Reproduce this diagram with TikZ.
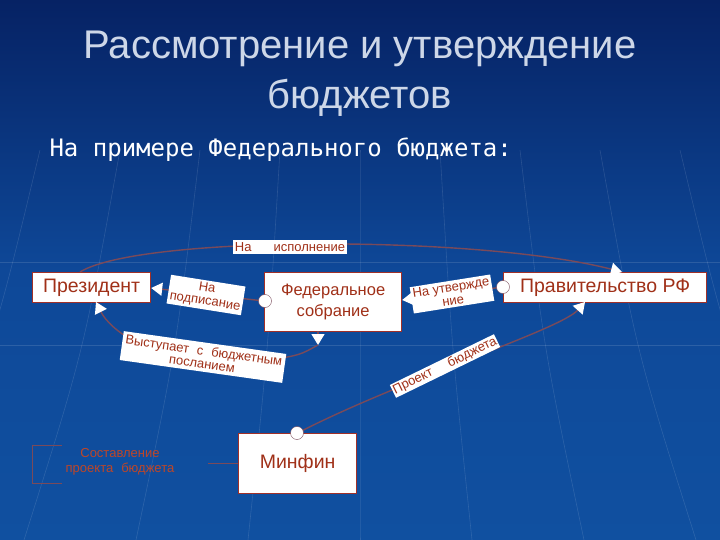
\documentclass[tikz,border=0pt]{standalone}
\usepackage{fontspec}
\setmainfont{Liberation Sans}
\newfontfamily\monof{DejaVu Sans Mono}
\usetikzlibrary{arrows.meta}
\definecolor{bord}{HTML}{A03028}
\definecolor{txt}{HTML}{A03018}
\definecolor{conn}{HTML}{7A4A5A}
\begin{document}
\begin{tikzpicture}[x=1pt,y=-1pt,
  box/.style={draw=bord,line width=1.2pt,fill=white,text=txt,inner sep=0pt,anchor=north west},
  lab/.style={fill=white,text=txt,font=\fontsize{13}{13.5}\selectfont,inner sep=2pt,align=center},
  con/.style={draw=conn,line width=1.4pt},
  tip/.style={-{Triangle[length=11pt,width=13pt,color=white,fill=white]}},
  dot/.style={circle,fill=white,draw=conn,minimum size=13pt,inner sep=0pt}]
\shade[top color={rgb,255:red,6;green,34;blue,100},bottom color={rgb,255:red,16;green,80;blue,160},middle color={rgb,255:red,14;green,72;blue,152}] (0,0) rectangle (720,540);
\useasboundingbox (0,0) rectangle (720,540);
\foreach \a in {40,120,200,280,360,440,520,600,680}
  \draw[white,opacity=0.12,line width=0.6pt] (\a,150) .. controls ({360+(\a-360)*1.15},350) .. ({360+(\a-360)*1.4},540);
\draw[white,opacity=0.12] (0,345) -- (720,345);
\draw[white,opacity=0.12] (0,262) -- (720,262);
% title
\node[text={rgb,255:red,205;green,215;blue,232},font=\fontsize{40}{50}\selectfont,align=center] (title) at (360,74) {Рассмотрение и утверждение\\бюджетов};
\node[white,font=\monof\fontsize{24}{28}\selectfont,anchor=west] (sub) at (46,150) {На примере Федерального бюджета:};
% boxes
\node[box,minimum width=118pt,minimum height=30pt] (pres) at (32,272) {};
\node[text=txt,font=\fontsize{19.5}{22}\selectfont] at (pres.center) {Президент};
\node[box,minimum width=137pt,minimum height=59pt] (fed) at (264,272) {};
\node[text=txt,font=\fontsize{16.5}{21}\selectfont,align=center] at (fed.center) {Федеральное\\собрание};
\node[box,minimum width=203pt,minimum height=30pt] (gov) at (503,272) {};
\node[text=txt,font=\fontsize{19.5}{22}\selectfont] at (gov.center) {Правительство РФ};
\node[box,minimum width=118pt,minimum height=60pt] (mf) at (238,433) {};
\node[text=txt,font=\fontsize{19.5}{22}\selectfont] at (mf.center) {Минфин};
% connectors
\coordinate (pt) at (80,272);
\coordinate (gt) at (622,272);
\draw[con,tip] (pt) .. controls (140,235) and (480,235) .. (gt);
\draw[con,tip] (fed.west |- 0,301) -- (pres.east |- 0,288);
\node[dot] (fdot) at (265,301) {};
\draw[con,tip] (gov.west |- 0,287) -- (fed.east |- 0,300);
\node[dot] (gdot) at (503,287) {};
\coordinate (fb) at (318,331);
\coordinate (pb) at (96,302);
\draw[con,tip] (fb) -- (318,345);
\draw[con,tip] (220,365) .. controls (150,360) and (110,330) .. (pb);
\draw[con] (318,345) .. controls (300,355) .. (270,360);
\coordinate (gb) at (585,302);
\draw[con,tip] (mf.north) .. controls (400,380) and (560,330) .. (gb);
\node[dot] (mdot) at (297,433) {};
% labels
\node[lab] (l1) at (290,247) {На\hspace{22pt}исполнение};
\node[lab,rotate=-9] (l2) at (206,295) {На\\подписание};
\node[lab,rotate=9] (l3) at (452,294) {На утвержде\\ние};
\node[lab,rotate=-8,inner sep=3pt] (l4) at (203,357) {Выступает\hspace{8pt}с\hspace{8pt}бюджетным\\посланием};
\node[lab,rotate=26,inner sep=1pt] (l5) at (445,366) {Проект\hspace{18pt}бюджета};
% left note
\node[text={rgb,255:red,190;green,70;blue,40},font=\fontsize{13}{15}\selectfont,align=center] (note) at (120,462) {Составление\\проекта\hspace{8pt}бюджета};
\draw[draw=conn,line width=0.8pt] (62,445) -- (32,445) -- (32,483) -- (62,483);
\draw[draw=conn,line width=0.8pt] (208,463) -- (mf.west |- 0,463);
\end{tikzpicture}
\end{document}
